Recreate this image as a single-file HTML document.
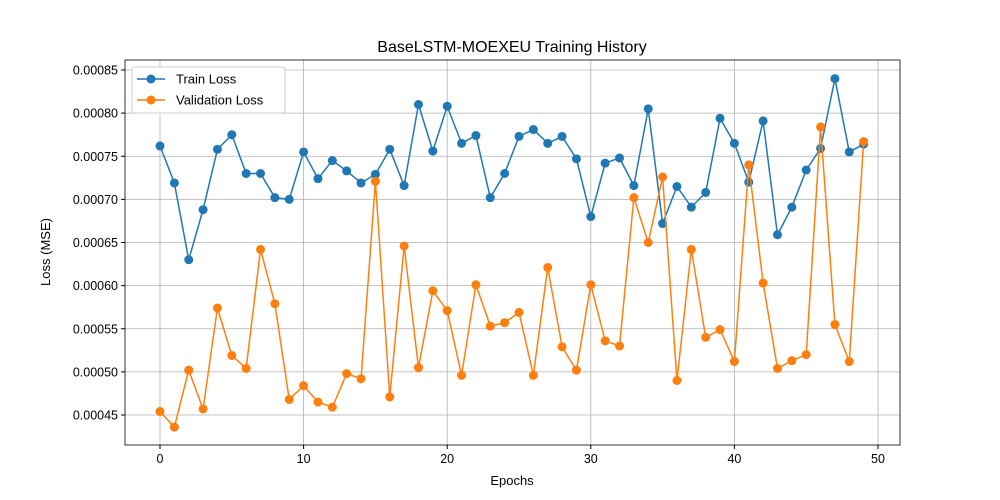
<!DOCTYPE html>
<html><head><meta charset="utf-8"><style>
body{margin:0;background:#fff;}
svg{display:block;font-family:"Liberation Sans","DejaVu Sans",sans-serif;}
</style></head><body>
<svg id="chart" width="1000" height="500" xmlns="http://www.w3.org/2000/svg"></svg>
<script>
const epochs = Array.from({length:50},(_,i)=>i);
const trainLoss = [0.000762,0.000719,0.000630,0.000688,0.000758,0.000775,0.000730,0.000730,0.000702,0.000700,0.000755,0.000724,0.000745,0.000733,0.000719,0.000729,0.000758,0.000716,0.000810,0.000756,0.000808,0.000765,0.000774,0.000702,0.000730,0.000773,0.000781,0.000765,0.000773,0.000747,0.000680,0.000742,0.000748,0.000716,0.000805,0.000672,0.000715,0.000691,0.000708,0.000794,0.000765,0.000720,0.000791,0.000659,0.000691,0.000734,0.000759,0.000840,0.000755,0.000764];
const valLoss = [0.000454,0.000436,0.000502,0.000457,0.000574,0.000519,0.000504,0.000642,0.000579,0.000468,0.000484,0.000465,0.000459,0.000498,0.000492,0.000721,0.000471,0.000646,0.000505,0.000594,0.000571,0.000496,0.000601,0.000553,0.000557,0.000569,0.000496,0.000621,0.000529,0.000502,0.000601,0.000536,0.000530,0.000702,0.000650,0.000726,0.000490,0.000642,0.000540,0.000549,0.000512,0.000740,0.000603,0.000504,0.000513,0.000520,0.000784,0.000555,0.000512,0.000767];
const xTicks = [0,10,20,30,40,50];
const yTicks = [0.00045,0.0005,0.00055,0.0006,0.00065,0.0007,0.00075,0.0008,0.00085];
const yTickLabels = ["0.00045","0.00050","0.00055","0.00060","0.00065","0.00070","0.00075","0.00080","0.00085"];

const L=125,R=900,T=60,B=445;
const x=v=>160+(v-0)*(878-160)/50;
const y=v=>415-(v-0.00045)*(345/0.0004);
const svg=document.getElementById('chart');
const NS='http://www.w3.org/2000/svg';
function mk(tag,attrs,parent){const e=document.createElementNS(NS,tag);for(const k in attrs)e.setAttribute(k,attrs[k]);(parent||svg).appendChild(e);return e;}

const grid=mk('g',{});


xTicks.forEach(t=>{mk('line',{x1:x(t),x2:x(t),y1:T,y2:B,stroke:'#b0b0b0','stroke-width':0.8},grid);});
yTicks.forEach(t=>{mk('line',{x1:L,x2:R,y1:y(t),y2:y(t),stroke:'#b0b0b0','stroke-width':0.8},grid);});

const xa=mk('g',{});


xTicks.forEach(t=>{mk('line',{x1:x(t),x2:x(t),y1:B,y2:B+4,stroke:'#000'},xa);const tx=mk('text',{x:x(t),y:B+18,'text-anchor':'middle','font-size':12.5},xa);tx.textContent=t;});
const ya=mk('g',{});


yTicks.forEach((t,i)=>{mk('line',{x1:L-4,x2:L,y1:y(t),y2:y(t),stroke:'#000'},ya);const tx=mk('text',{x:L-7,y:y(t)+4.5,'text-anchor':'end','font-size':12.5},ya);tx.textContent=yTickLabels[i];});

function series(data,color,name){
  const g=mk('g',{});
  
  
  mk('polyline',{points:data.map((v,i)=>x(epochs[i])+','+y(v)).join(' '),fill:'none',stroke:color,'stroke-width':1.5},g);
  data.forEach((v,i)=>mk('circle',{cx:x(epochs[i]),cy:y(v),r:4.5,fill:color},g));
}
series(trainLoss,'#1f77b4','train-loss-line');
series(valLoss,'#ff7f0e','validation-loss-line');

mk('rect',{x:L,y:T,width:R-L,height:B-T,fill:'none',stroke:'#000','stroke-width':0.8});

let t=mk('text',{x:512,y:52,'text-anchor':'middle','font-size':16});t.textContent='BaseLSTM-MOEXEU Training History';

t=mk('text',{x:512,y:485,'text-anchor':'middle','font-size':13});t.textContent='Epochs';

t=mk('text',{x:50,y:252,'text-anchor':'middle','font-size':13,transform:'rotate(-90 50 252)'});t.textContent='Loss (MSE)';


const lg=mk('g',{});


mk('rect',{x:132,y:67,width:153,height:46,rx:3,fill:'#fff',stroke:'#ccc'},lg);
[['Train Loss','#1f77b4',79],['Validation Loss','#ff7f0e',100]].forEach(([n,c,yy])=>{
  mk('line',{x1:137,x2:165,y1:yy,y2:yy,stroke:c,'stroke-width':1.5},lg);
  mk('circle',{cx:151,cy:yy,r:4.5,fill:c},lg);
  const tx=mk('text',{x:176,y:yy+4.5,'font-size':13},lg);tx.textContent=n;
});
</script>
</body></html>
